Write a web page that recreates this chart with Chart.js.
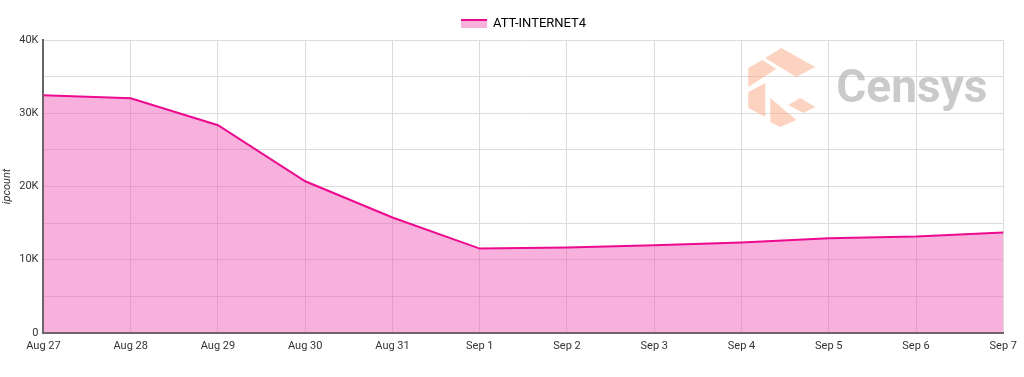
<!DOCTYPE html>
<html lang="en">
<head>
<meta charset="UTF-8">
<title>ATT-INTERNET4 ipcount</title>
<style>
  html, body { margin: 0; padding: 0; background: #fff; }
  #wrap { width: 1024px; height: 377px; }
</style>
</head>
<body>
<div id="wrap"><canvas id="chart"></canvas></div>
<script src="https://cdn.jsdelivr.net/npm/chart.js"></script>
<script>
const days = ['Aug 27', 'Aug 28', 'Aug 29', 'Aug 30', 'Aug 31', 'Sep 1', 'Sep 2', 'Sep 3', 'Sep 4', 'Sep 5', 'Sep 6', 'Sep 7'];
const ipcount = [32450, 32050, 28350, 20700, 15750, 11500, 11650, 11950, 12350, 12900, 13150, 13700];
const seriesName = 'ATT-INTERNET4';

const lineColor = '#ec0a8f';
const fillColor = 'rgba(240, 80, 180, 0.45)';

// legend swatch: line on top, fill below
const swatch = document.createElement('canvas');
swatch.width = 26; swatch.height = 9;
const sctx = swatch.getContext('2d');
sctx.fillStyle = fillColor;
sctx.fillRect(0, 1, 26, 8);
sctx.fillStyle = lineColor;
sctx.fillRect(0, 0, 26, 2);

// faint logo + name in the upper right of the plot
const watermark = {
  id: 'watermark',
  afterDraw(chart) {
    const c = chart.ctx;
    const x0 = chart.chartArea.right - 255, y0 = chart.chartArea.top + 8;
    c.save();
    c.fillStyle = 'rgba(250, 175, 140, 0.55)';
    const polys = [
      [[17, 10], [33, 0], [67, 19], [48, 29]],
      [[0, 20], [14, 12], [28, 21], [0, 39]],
      [[0, 44], [17, 35], [17, 69], [0, 60]],
      [[22, 50], [48, 72], [32, 79], [22, 74]],
      [[40, 57], [52, 50], [67, 59], [55, 65]]
    ];
    for (const p of polys) {
      c.beginPath();
      c.moveTo(x0 + p[0][0], y0 + p[0][1]);
      for (let i = 1; i < p.length; i++) c.lineTo(x0 + p[i][0], y0 + p[i][1]);
      c.closePath();
      c.fill();
    }
    c.fillStyle = 'rgba(180, 180, 180, 0.7)';
    c.font = 'bold 46px Roboto';
    c.textBaseline = 'alphabetic';
    c.fillText('Censys', x0 + 88, y0 + 54);
    c.restore();
  }
};

new Chart(document.getElementById('chart'), {
  type: 'line',
  data: {
    labels: days,
    datasets: [{
      label: seriesName,
      data: ipcount,
      borderColor: lineColor,
      backgroundColor: fillColor,
      borderWidth: 2,
      fill: 'origin',
      tension: 0,
      pointRadius: 0,
      pointHoverRadius: 0
    }]
  },
  options: {
    responsive: true,
    maintainAspectRatio: false,
    animation: false,
    layout: { padding: { left: 1, right: 5, top: 2, bottom: 17 } },
    plugins: {
      tooltip: { enabled: false },
      legend: {
        position: 'top',
        fullSize: false,
        labels: {
          usePointStyle: true,
          pointStyle: swatch,
          pointStyleWidth: 26,
          color: '#333',
          font: { family: 'Roboto', size: 13 },
          padding: 15,
          generateLabels(chart) {
            return [{ text: seriesName, pointStyle: swatch, fillStyle: fillColor, strokeStyle: lineColor, lineWidth: 0, datasetIndex: 0 }];
          }
        }
      }
    },
    scales: {
      x: {
        offset: false,
        grid: { color: '#dcdcdc', drawTicks: false },
        border: { color: '#666', width: 2 },
        ticks: { color: '#333', font: { family: 'Roboto', size: 11 }, maxRotation: 0, autoSkip: false, padding: 7 }
      },
      y: {
        min: 0, max: 40000,
        grid: { color: '#dcdcdc', drawTicks: false },
        border: { color: '#666', width: 2 },
        ticks: {
          stepSize: 5000,
          color: '#333',
          font: { family: 'Roboto', size: 11 },
          padding: 5,
          callback: v => v % 10000 !== 0 ? '' : (v === 0 ? '0' : (v / 1000) + 'K')
        },
        title: { display: true, text: 'ipcount', color: '#333', font: { family: 'Roboto', size: 11, style: 'italic' }, padding: 0 }
      }
    }
  },
  plugins: [watermark]
});
</script>
</body>
</html>
